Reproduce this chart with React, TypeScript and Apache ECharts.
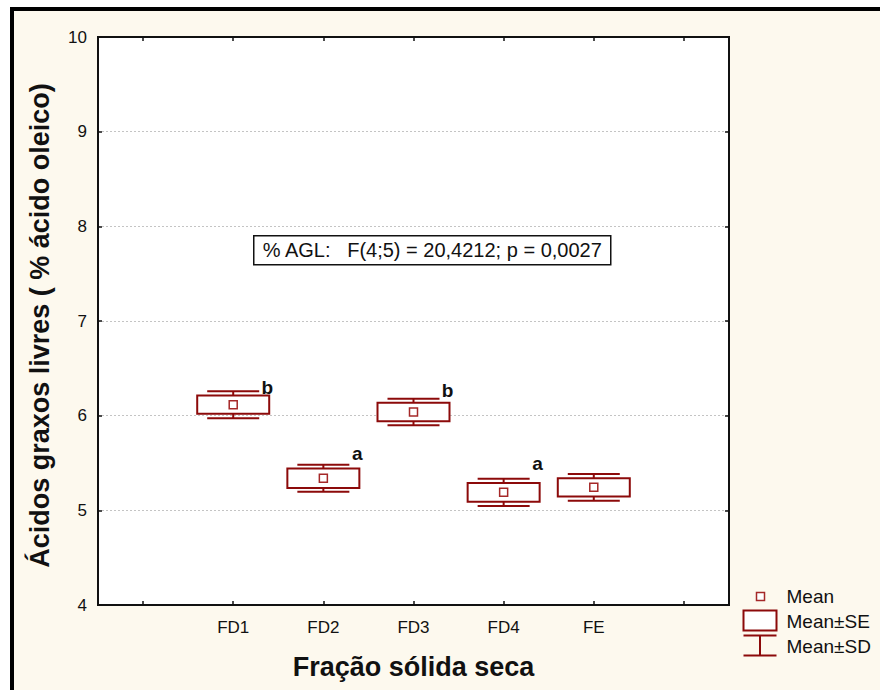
import React, { useEffect, useRef } from "react";
import * as echarts from "echarts";

// Group names and summary statistics of free fatty acids (% oleic acid)
const groups = ["FD1", "FD2", "FD3", "FD4", "FE"];
const means = [6.116, 5.338, 6.039, 5.19, 5.243];
const stdErrors = [0.097, 0.103, 0.098, 0.099, 0.097];
const stdDevs = [0.143, 0.143, 0.141, 0.144, 0.141];
// Tukey grouping letters and the height where each one sits
const letters = ["b", "a", "b", "a", ""];
const letterY = [6.24, 5.54, 6.21, 5.44, 0];

const yTicks = { min: 4, max: 10, step: 1 };
const statText = "% AGL:   F(4;5) = 20,4212; p = 0,0027";
const legendItems = ["Mean", "Mean±SE", "Mean±SD"];

const FONT = "'Liberation Sans', Arial, Helvetica, sans-serif";
const RED = "#8c0a0a";
const CREAM = "#fdf9ee";

// one padding slot on each side of the groups
const slots = ["pad-left", ...groups, "pad-right"];

export default function App() {
  const ref = useRef<HTMLDivElement>(null);

  useEffect(() => {
    if (!ref.current) return;
    const chart = echarts.init(ref.current, undefined, { renderer: "svg" });

    const data = groups.map((g, k) => [k + 1, means[k], stdErrors[k], stdDevs[k], k]);

    const renderItem = (params: any, api: any) => {
      const idx = api.value(0);
      const m = api.value(1);
      const se = api.value(2);
      const sd = api.value(3);
      const k = api.value(4);
      const cx = api.coord([idx, m])[0];
      const py = (v: number) => api.coord([idx, v])[1];
      const boxW = 72;
      const capW = 52;
      const lineStyle = { stroke: RED, lineWidth: 2, fill: null };
      const children: any[] = [
        // SD whiskers
        { type: "line", shape: { x1: cx, y1: py(m + sd), x2: cx, y2: py(m + se) }, style: lineStyle },
        { type: "line", shape: { x1: cx, y1: py(m - se), x2: cx, y2: py(m - sd) }, style: lineStyle },
        { type: "line", shape: { x1: cx - capW / 2, y1: py(m + sd), x2: cx + capW / 2, y2: py(m + sd) }, style: lineStyle },
        { type: "line", shape: { x1: cx - capW / 2, y1: py(m - sd), x2: cx + capW / 2, y2: py(m - sd) }, style: lineStyle },
        // SE box
        {
          type: "rect",
          shape: { x: cx - boxW / 2, y: py(m + se), width: boxW, height: py(m - se) - py(m + se) },
          style: { stroke: RED, lineWidth: 2, fill: "#ffffff" },
        },
        // mean marker
        {
          type: "rect",
          shape: { x: cx - 4, y: py(m) - 4, width: 8, height: 8 },
          style: { stroke: "#a52828", lineWidth: 1.5, fill: "#ffffff" },
        },
      ];
      if (letters[k]) {
        children.push({
          type: "text",
          style: {
            text: letters[k],
            x: cx + 34,
            y: py(letterY[k]) + 4,
            textAlign: "center",
            textVerticalAlign: "bottom",
            font: `bold 19px ${FONT}`,
            fill: "#111",
          },
        });
      }
      return { type: "group", children };
    };

    const option: any = {
      animation: false,
      backgroundColor: CREAM,
      textStyle: { fontFamily: FONT },
      grid: {
        left: 98,
        top: 37,
        right: 151,
        bottom: 85,
        show: true,
        backgroundColor: "#ffffff",
        borderColor: "#111",
        borderWidth: 2,
      },
      xAxis: [
        {
          type: "category",
          data: slots,
          boundaryGap: true,
          position: "bottom",
          name: "Fração sólida seca",
          nameLocation: "middle",
          nameGap: 48,
          nameTextStyle: { fontFamily: FONT, fontSize: 27, fontWeight: "bold", color: "#111" },
          axisLine: { show: true, lineStyle: { color: "#111", width: 2 } },
          axisTick: { show: true, inside: true, length: 4, alignWithLabel: true, interval: 0, lineStyle: { color: "#111", width: 1.5 } },
          axisLabel: {
            interval: 0,
            margin: 14,
            fontFamily: FONT,
            fontSize: 17,
            color: "#111",
            formatter: (v: string) => (groups.includes(v) ? v : ""),
          },
          splitLine: { show: false },
        },
        {
          type: "category",
          data: slots,
          boundaryGap: true,
          position: "top",
          axisLine: { show: true, lineStyle: { color: "#111", width: 2 } },
          axisTick: { show: true, inside: true, length: 4, alignWithLabel: true, interval: 0, lineStyle: { color: "#111", width: 1.5 } },
          axisLabel: { show: false },
          splitLine: { show: false },
        },
      ],
      yAxis: [
        {
          type: "value",
          min: yTicks.min,
          max: yTicks.max,
          interval: yTicks.step,
          position: "left",
          name: "Ácidos graxos livres ( % ácido oleico)",
          nameLocation: "middle",
          nameGap: 45,
          nameRotate: 90,
          nameTextStyle: { fontFamily: FONT, fontSize: 27, fontWeight: "bold", color: "#111", padding: [0, 9, 0, 0] },
          axisLine: { show: true, lineStyle: { color: "#111", width: 2 } },
          axisTick: { show: true, inside: true, length: 4, lineStyle: { color: "#111", width: 1.5 } },
          axisLabel: { margin: 11, fontFamily: FONT, fontSize: 17, color: "#111" },
          splitLine: { show: true, lineStyle: { color: "#c4c4c4", width: 1, type: [2, 2] } },
        },
        {
          type: "value",
          min: yTicks.min,
          max: yTicks.max,
          interval: yTicks.step,
          position: "right",
          axisLine: { show: true, lineStyle: { color: "#111", width: 2 } },
          axisTick: { show: true, inside: true, length: 4, lineStyle: { color: "#111", width: 1.5 } },
          axisLabel: { show: false },
          splitLine: { show: false },
        },
      ],
      series: [
        {
          type: "custom",
          name: "Mean±SE±SD",
          xAxisIndex: 0,
          yAxisIndex: 0,
          renderItem,
          data,
          encode: { x: 0, y: 1 },
          clip: false,
          z: 5,
        },
      ],
      graphic: [
        // page edges and frame
        { type: "rect", left: 0, top: 0, shape: { width: 880, height: 7 }, style: { fill: "#ffffff" }, z: 0 },
        { type: "rect", left: 0, top: 0, shape: { width: 10, height: 690 }, style: { fill: "#ffffff" }, z: 0 },
        { type: "rect", left: 10, top: 7, shape: { width: 870, height: 4 }, style: { fill: "#000000" }, z: 1 },
        { type: "rect", left: 10, top: 7, shape: { width: 4, height: 683 }, style: { fill: "#000000" }, z: 1 },
        // ANOVA result box
        {
          type: "group",
          left: 253,
          top: 235,
          z: 10,
          children: [
            { type: "rect", shape: { x: 0, y: 0, width: 357, height: 29 }, style: { fill: "#ffffff", stroke: "#111", lineWidth: 1.5 } },
            {
              type: "text",
              style: {
                text: statText,
                x: 178.5,
                y: 14.5,
                textAlign: "center",
                textVerticalAlign: "middle",
                font: `20px ${FONT}`,
                fill: "#111",
              },
            },
          ],
        },
        // legend
        {
          type: "group",
          left: 741,
          top: 587,
          z: 10,
          children: [
            { type: "rect", shape: { x: 14, y: 4, width: 8, height: 8 }, style: { fill: "#ffffff", stroke: "#a52828", lineWidth: 1.5 } },
            { type: "text", style: { text: legendItems[0], x: 44, y: 8, textVerticalAlign: "middle", font: `19px ${FONT}`, fill: "#111" } },
            { type: "rect", shape: { x: 1, y: 22, width: 33, height: 20 }, style: { fill: "#ffffff", stroke: RED, lineWidth: 2 } },
            { type: "text", style: { text: legendItems[1], x: 44, y: 33, textVerticalAlign: "middle", font: `19px ${FONT}`, fill: "#111" } },
            { type: "line", shape: { x1: 1, y1: 47, x2: 34, y2: 47 }, style: { stroke: RED, lineWidth: 2 } },
            { type: "line", shape: { x1: 17.5, y1: 47, x2: 17.5, y2: 67 }, style: { stroke: RED, lineWidth: 2 } },
            { type: "line", shape: { x1: 1, y1: 67, x2: 34, y2: 67 }, style: { stroke: RED, lineWidth: 2 } },
            { type: "text", style: { text: legendItems[2], x: 44, y: 58, textVerticalAlign: "middle", font: `19px ${FONT}`, fill: "#111" } },
          ],
        },
      ],
    };

    chart.setOption(option);
    return () => chart.dispose();
  }, []);

  return (
    <div
      ref={ref}
      style={{ position: "fixed", left: 0, top: 0, width: 880, height: 690 }}
    />
  );
}
